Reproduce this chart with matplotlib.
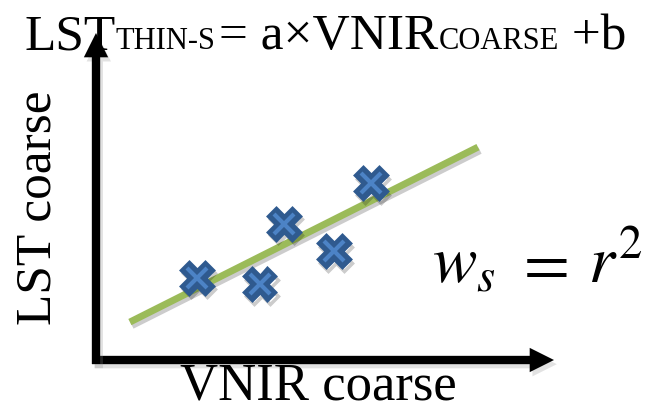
import matplotlib
matplotlib.use("Agg")
import matplotlib.pyplot as plt
import matplotlib.patheffects as pe
from matplotlib.patches import FancyArrowPatch
from matplotlib import font_manager
import numpy as np

# Sample points (coarse VNIR vs coarse LST), arbitrary units
vnir_coarse = [2.20, 3.57, 4.10, 5.19, 6.01]
lst_coarse = [2.51, 2.32, 4.16, 3.33, 5.41]

# Regression line LST = a * VNIR + b, drawn over this VNIR range
coef_a = 0.704
coef_b = 0.639
fit_span = [0.74, 8.34]

# Text content: (text, size class, gap before in px)
title_parts = [("LST", "big", 0), ("THIN-S", "small", 0), ("= a×VNIR", "big", 4),
               ("COARSE", "small", 0), (" +b", "big", 0)]
xlabel = "VNIR coarse"
ylabel = "LST coarse"
formula_parts = [(r"$w_s$", 432), (r"$=$", 514), (r"$r^2$", 588)]

# make sure the serif face is really available
font_manager.findfont("Liberation Serif", fallback_to_default=False)

W, H = 662, 412
fig = plt.figure(figsize=(W / 100, H / 100), dpi=100)
fig.patch.set_facecolor("white")
plt.rcParams["mathtext.fontset"] = "stix"

# Plot frame: origin and arrow tips in figure pixels
ox, oy = 96, 360
tx, ty = 554, 33
ax = fig.add_axes([ox / W, 1 - oy / H, (tx - ox) / W, (oy - ty) / H])
ax.set_xlim(0, 10)
ax.set_ylim(0, 10)
ax.axis("off")

serif = ["Liberation Serif", "DejaVu Serif"]
BLUE_DARK = "#2F5A8F"
BLUE_LIGHT = "#4C83C6"
GREEN = "#9BBB59"

shadow_patch = [pe.SimplePatchShadow(offset=(2, -3), shadow_rgbFace="0.55", alpha=0.25), pe.Normal()]

# Axis arrows (filled shapes so head size is exact)
px_x = 10 / (tx - ox)   # data units per pixel, x
px_y = 10 / (oy - ty)   # data units per pixel, y
arrow_style = "simple,head_length=1.75,head_width=1.75,tail_width=0.6"
for start, end in [((-4 * px_x, 0), (10, 0)), ((0, -4 * px_y), (0, 10))]:
    arr = FancyArrowPatch(start, end, arrowstyle=arrow_style, mutation_scale=10,
                          color="black", lw=0, shrinkA=0, shrinkB=0,
                          transform=ax.transData, clip_on=False, zorder=2)
    arr.set_path_effects(shadow_patch)
    ax.add_patch(arr)

# Regression line
xs = np.array(fit_span)
ax.plot(xs, coef_a * xs + coef_b, color=GREEN, lw=5, solid_capstyle="butt",
        path_effects=[pe.SimpleLineShadow(offset=(1.5, -2.5), alpha=0.2), pe.Normal()],
        zorder=3, clip_on=False)

# Sample markers: thick dark cross with a lighter inner cross
ax.plot(vnir_coarse, lst_coarse, ls="none", marker="X", ms=23, mfc=BLUE_DARK,
        mec=BLUE_DARK, mew=2.5, zorder=4, clip_on=False,
        path_effects=[pe.SimpleLineShadow(offset=(1.5, -2.5), alpha=0.2), pe.Normal()])
ax.plot(vnir_coarse, lst_coarse, ls="none", marker="x", ms=14, mec=BLUE_LIGHT,
        mew=3, zorder=5, clip_on=False)

# Title built piece by piece (small caps for the subscripts)
sizes = {"big": 37, "small": 22}
renderer = fig.canvas.get_renderer()
x = 24
for txt, kind, gap in title_parts:
    t = fig.text((x + gap) / W, 1 - 49 / H, txt, fontsize=sizes[kind], family=serif,
                 ha="left", va="baseline")
    x = t.get_window_extent(renderer).x1

# Axis labels
fig.text(318 / W, 1 - 400 / H, xlabel, fontsize=38, family=serif, ha="center", va="baseline")
fig.text(38 / W, 1 - 208 / H, ylabel, fontsize=37, family=serif, ha="center", va="center",
         rotation=90)

# Weight formula w_s = r^2
for txt, xpos in formula_parts:
    fig.text(xpos / W, 1 - 283 / H, txt, fontsize=48, ha="left", va="baseline")

fig.savefig("out.png", dpi=100, facecolor="white")
